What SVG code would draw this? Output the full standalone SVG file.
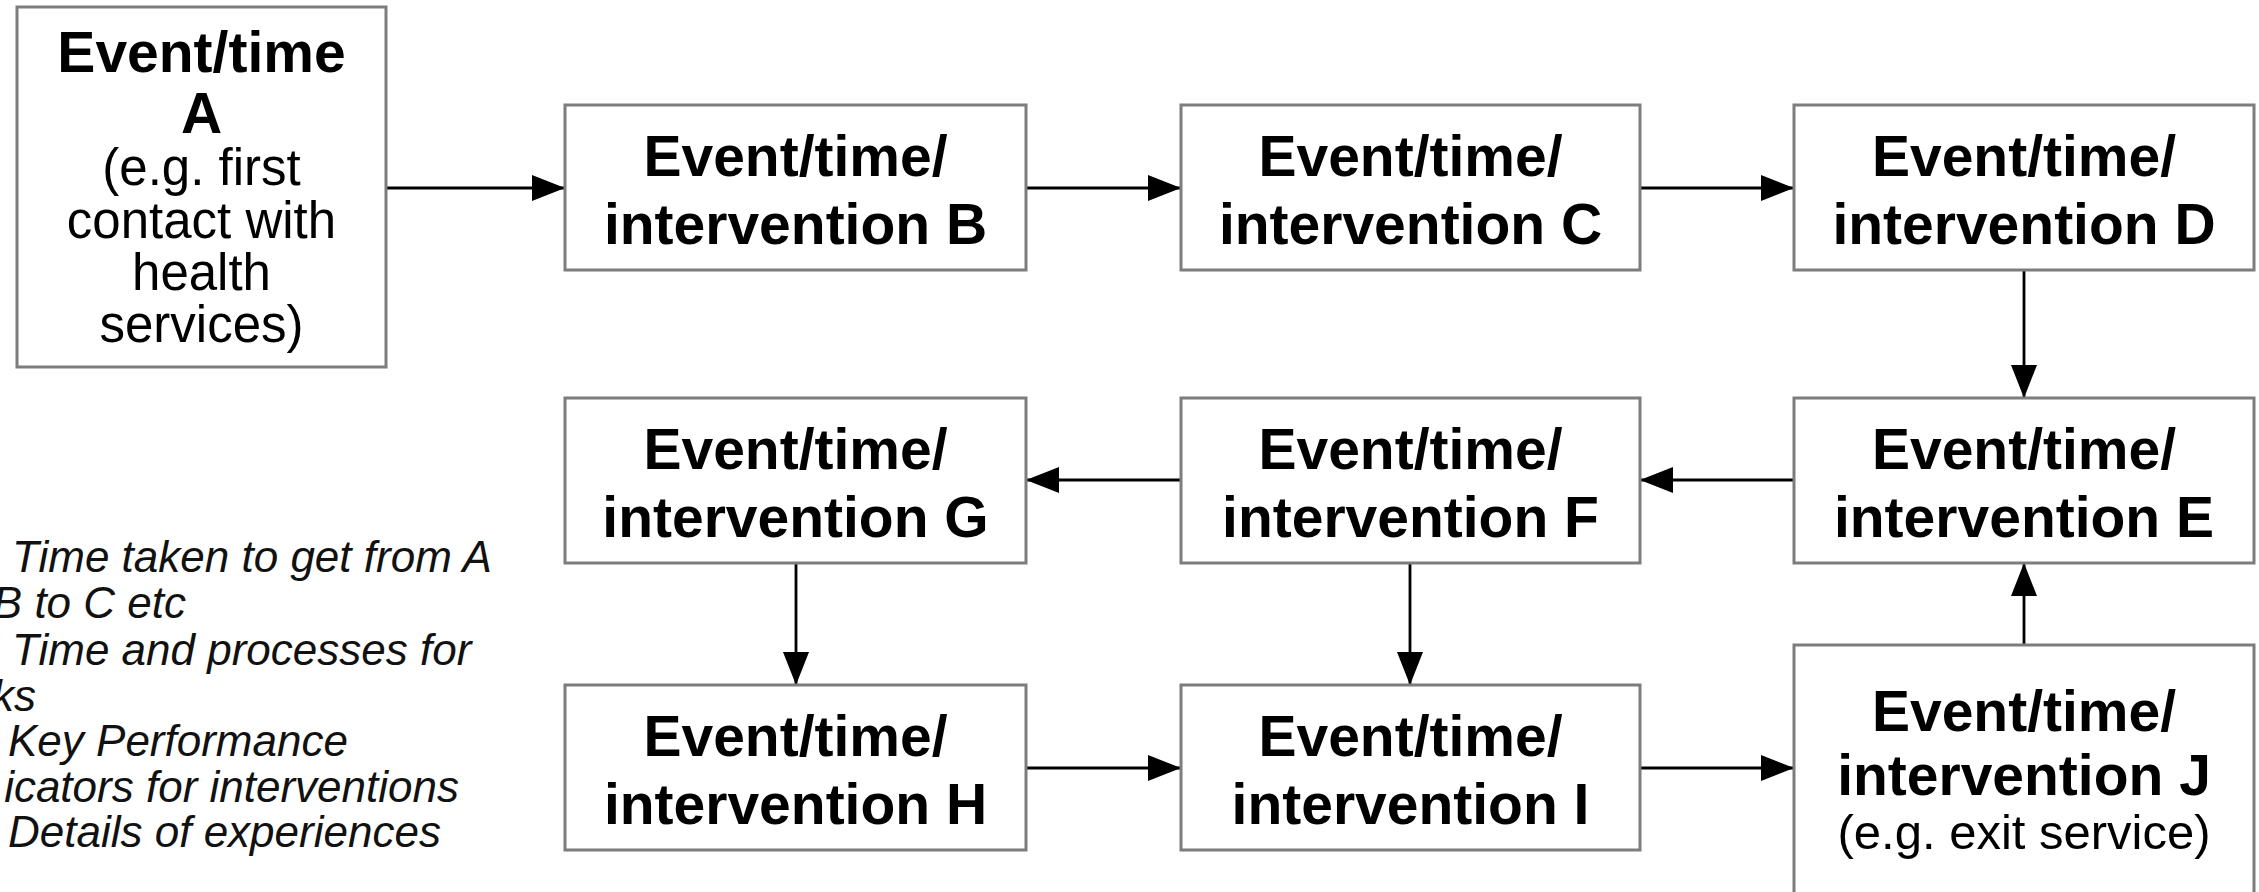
<svg xmlns="http://www.w3.org/2000/svg" width="2259" height="892" viewBox="0 0 2259 892">
<style>
.box{fill:#fff;stroke:#7d7d7d;stroke-width:3}
.b{font-family:"Liberation Sans",Arial,sans-serif;font-weight:bold;font-size:57px;fill:#000;text-anchor:middle}
.r{font-family:"Liberation Sans",Arial,sans-serif;font-size:51px;fill:#000;text-anchor:middle}
.leg{font-family:"Liberation Sans",Arial,sans-serif;font-style:italic;font-size:44px;fill:#111}
.c{fill:none;stroke:#000;stroke-width:2.8}
</style>
<defs>
<marker id="ah" markerUnits="userSpaceOnUse" markerWidth="33" markerHeight="26" viewBox="0 0 33 26" refX="32" refY="13" orient="auto">
<path d="M0,0 L33,13 L0,26 Z" fill="#000"/>
</marker>
</defs>
<rect width="2259" height="892" fill="#fff"/>
<g id="connectors">
<line class="c" x1="387" y1="188" x2="564" y2="188" marker-end="url(#ah)"/>
<line class="c" x1="1026" y1="188" x2="1180" y2="188" marker-end="url(#ah)"/>
<line class="c" x1="1640" y1="188" x2="1793" y2="188" marker-end="url(#ah)"/>
<line class="c" x1="2024" y1="271" x2="2024" y2="397" marker-end="url(#ah)"/>
<line class="c" x1="1794" y1="480" x2="1641" y2="480" marker-end="url(#ah)"/>
<line class="c" x1="1181" y1="480" x2="1027" y2="480" marker-end="url(#ah)"/>
<line class="c" x1="796" y1="563" x2="796" y2="684" marker-end="url(#ah)"/>
<line class="c" x1="1410" y1="563" x2="1410" y2="684" marker-end="url(#ah)"/>
<line class="c" x1="1026" y1="768" x2="1180" y2="768" marker-end="url(#ah)"/>
<line class="c" x1="1640" y1="768" x2="1793" y2="768" marker-end="url(#ah)"/>
<line class="c" x1="2024" y1="645" x2="2024" y2="564" marker-end="url(#ah)"/>
</g>
<g id="nodeA">
<rect class="box" x="17" y="7" width="369" height="360"/>
<text class="b" x="201.5" y="72">Event/time</text>
<text class="b" x="201.5" y="133">A</text>
<text class="r" x="201.5" y="185">(e.g. first</text>
<text class="r" x="201.5" y="238">contact with</text>
<text class="r" x="201.5" y="290">health</text>
<text class="r" x="201.5" y="342">services)</text>
</g>
<g id="nodeB">
<rect class="box" x="565" y="105" width="461" height="165"/>
<text class="b" x="795.5" y="176">Event/time/</text>
<text class="b" x="795.5" y="244">intervention B</text>
</g>
<g id="nodeC">
<rect class="box" x="1181" y="105" width="459" height="165"/>
<text class="b" x="1410.5" y="176">Event/time/</text>
<text class="b" x="1410.5" y="244">intervention C</text>
</g>
<g id="nodeD">
<rect class="box" x="1794" y="105" width="460" height="165"/>
<text class="b" x="2024" y="176">Event/time/</text>
<text class="b" x="2024" y="244">intervention D</text>
</g>
<g id="nodeE">
<rect class="box" x="1794" y="398" width="460" height="165"/>
<text class="b" x="2024" y="469">Event/time/</text>
<text class="b" x="2024" y="537">intervention E</text>
</g>
<g id="nodeF">
<rect class="box" x="1181" y="398" width="459" height="165"/>
<text class="b" x="1410.5" y="469">Event/time/</text>
<text class="b" x="1410.5" y="537">intervention F</text>
</g>
<g id="nodeG">
<rect class="box" x="565" y="398" width="461" height="165"/>
<text class="b" x="795.5" y="469">Event/time/</text>
<text class="b" x="795.5" y="537">intervention G</text>
</g>
<g id="nodeH">
<rect class="box" x="565" y="685" width="461" height="165"/>
<text class="b" x="795.5" y="756">Event/time/</text>
<text class="b" x="795.5" y="824">intervention H</text>
</g>
<g id="nodeI">
<rect class="box" x="1181" y="685" width="459" height="165"/>
<text class="b" x="1410.5" y="756">Event/time/</text>
<text class="b" x="1410.5" y="824">intervention I</text>
</g>
<g id="nodeJ">
<rect class="box" x="1794" y="645" width="460" height="270"/>
<text class="b" x="2024" y="731">Event/time/</text>
<text class="b" x="2024" y="795">intervention J</text>
<text class="r" x="2024" y="849" style="font-size:49px">(e.g. exit service)</text>
</g>
<g id="legend">
<text class="leg" x="12" y="572">Time taken to get from A</text>
<text class="leg" x="186" y="618" text-anchor="end">B to C etc</text>
<text class="leg" x="12" y="665">Time and processes for</text>
<text class="leg" x="36" y="711" text-anchor="end">ks</text>
<text class="leg" x="8" y="756">Key Performance</text>
<text class="leg" x="459" y="802" text-anchor="end">icators for interventions</text>
<text class="leg" x="8" y="847">Details of experiences</text>
</g>
</svg>
